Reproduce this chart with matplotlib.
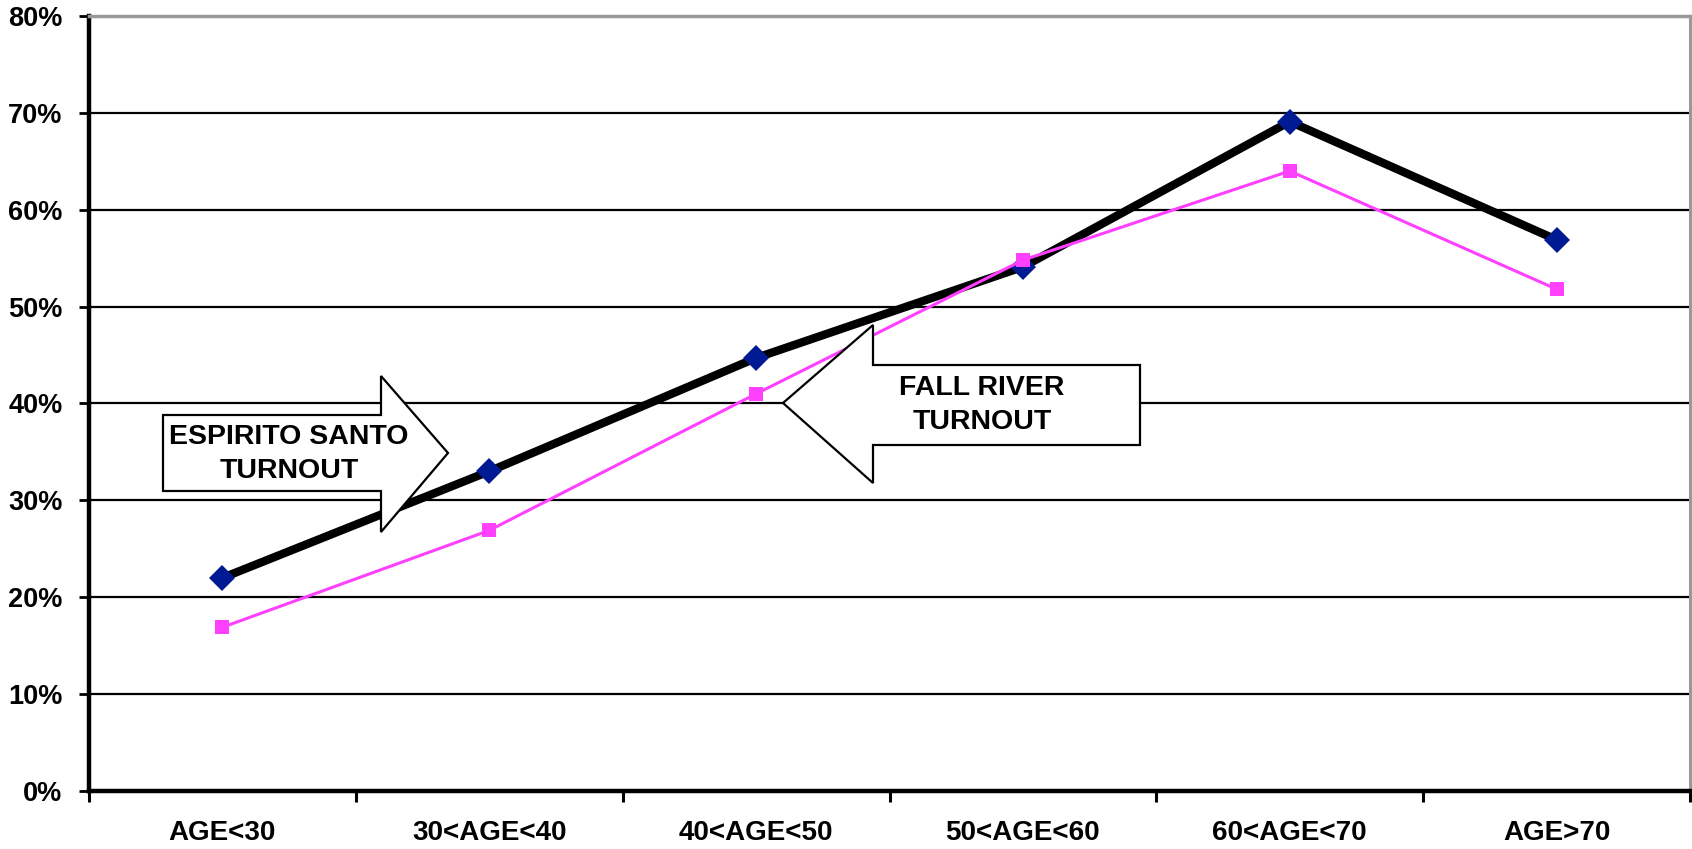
import numpy as np
import matplotlib.pyplot as plt
from matplotlib.patches import Polygon

plt.rcParams['font.family'] = ['Liberation Sans', 'DejaVu Sans']

categories = ['AGE<30', '30<AGE<40', '40<AGE<50', '50<AGE<60', '60<AGE<70', 'AGE>70']
espirito_santo = [22.0, 33.0, 44.7, 54.1, 69.1, 56.9]  # percent
fall_river = [16.9, 26.9, 41.0, 54.8, 64.0, 51.8]  # percent
y_ticks = [0, 10, 20, 30, 40, 50, 60, 70, 80]

W, H = 1692, 849
fig = plt.figure(figsize=(W / 100, H / 100), dpi=100)
ax = fig.add_axes([89 / W, 1 - 791 / H, (1690 - 89) / W, (791 - 16) / H])

x = np.arange(len(categories))
ax.plot(x, espirito_santo, color='black', lw=6, zorder=3,
        marker='D', ms=13.5, mfc='#001a94', mec='#001a94', mew=0)
ax.plot(x, fall_river, color='#ff40ff', lw=2.2, zorder=3,
        marker='s', ms=10.5, mfc='#ff40ff', mec='#ff40ff', mew=0)

ax.set_xlim(-0.5, len(categories) - 0.5)
ax.set_ylim(0, 80)
ax.set_yticks(y_ticks)
ax.set_yticklabels([f'{v}%' for v in y_ticks], fontsize=19.5, fontweight='bold')
ax.set_xticks(x)
ax.set_xticklabels(categories, fontsize=20, fontweight='bold')
ax.set_xticks(np.arange(len(categories) + 1) - 0.5, minor=True)
ax.tick_params(axis='x', which='major', length=0, pad=21)
ax.tick_params(axis='x', which='minor', length=8, width=2.2, direction='out')
ax.tick_params(axis='y', length=7, width=2, direction='out', pad=12)

for v in y_ticks[1:-1]:
    ax.axhline(v, color='black', lw=1.6, zorder=1)

ax.spines['left'].set_linewidth(3.2)
ax.spines['bottom'].set_linewidth(3.2)
ax.spines['top'].set_color('#999999')
ax.spines['top'].set_linewidth(2.5)
ax.spines['right'].set_color('#999999')
ax.spines['right'].set_linewidth(2.2)


def px(pts):
    return [(a / W, 1 - b / H) for a, b in pts]


# callout arrows (pixel positions)
es_arrow = [(163, 415), (381, 415), (381, 376), (448, 453), (381, 532), (381, 491), (163, 491)]
fr_arrow = [(783, 403), (873, 325), (873, 365), (1140, 365), (1140, 445), (873, 445), (873, 483)]
for pts in (es_arrow, fr_arrow):
    fig.add_artist(Polygon(px(pts), closed=True, facecolor='white',
                           edgecolor='black', lw=1.6, zorder=5))

fig.text(289 / W, 1 - 454 / H, 'ESPIRITO SANTO\nTURNOUT', ha='center', va='center',
         fontsize=20.5, fontweight='bold', linespacing=1.45, zorder=6)
fig.text(982 / W, 1 - 405 / H, 'FALL RIVER\nTURNOUT', ha='center', va='center',
         fontsize=20.5, fontweight='bold', linespacing=1.4, zorder=6)

fig.savefig('out.png', dpi=100)
